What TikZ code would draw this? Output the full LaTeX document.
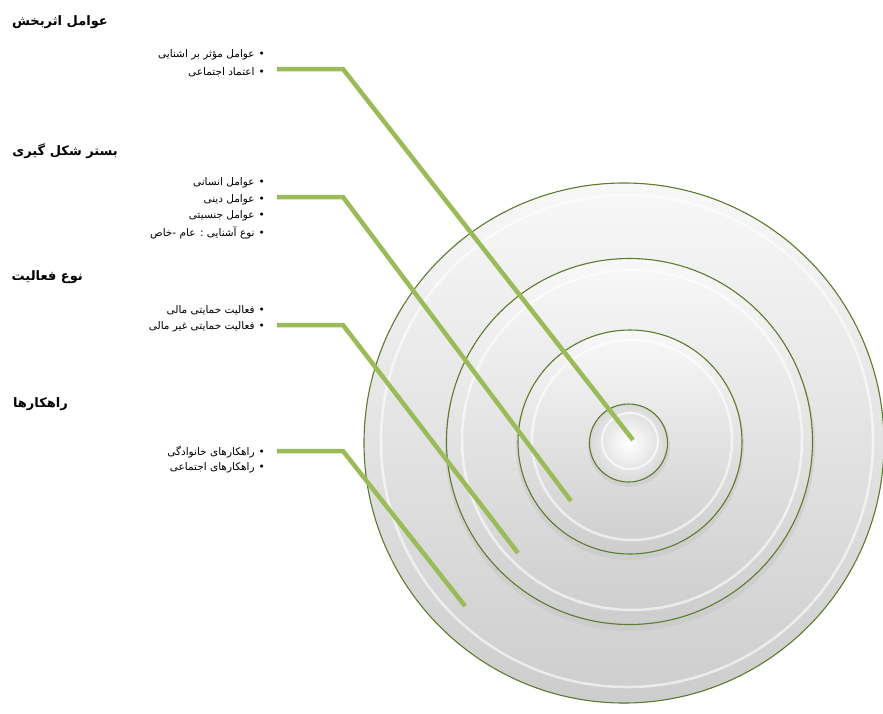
\documentclass[tikz,border=0pt]{standalone}
\usepackage{fontspec}
\TeXXeTstate=1
\newfontfamily\fa[Script=Arabic]{DejaVu Sans}
\definecolor{leadgreen}{HTML}{9BBB59}
\definecolor{rimgreen}{HTML}{5E7B2E}
\definecolor{disktop}{HTML}{F8F8F8}
\definecolor{diskbot}{HTML}{CDCDCD}
\begin{document}
\begin{tikzpicture}[x=1pt,y=-1pt,
  titletext/.style={anchor=east,inner sep=0pt,font=\fa\bfseries\fontsize{13}{15}\selectfont},
  itemtext/.style={anchor=east,inner sep=0pt,font=\fa\fontsize{10.5}{12}\selectfont},
  lead/.style={line width=4.5pt,color=leadgreen},
  diskfill/.style={top color=disktop,bottom color=diskbot},
  rim/.style={draw=rimgreen,line width=1.1pt},
  shine/.style={draw=white,line width=2.5pt,opacity=0.6}]
\useasboundingbox (0,0) rectangle (883,713);
\fill[white] (0,0) rectangle (883,713);

% discs
\fill[diskfill] (624,443) circle[radius=260pt];
\draw[shine] (627,441) circle[radius=246pt];
\draw[rim] (624,443) circle[radius=260pt];

\fill[gray!45,opacity=0.5] (630,446) circle[radius=185pt];
\fill[diskfill] (629.5,441.5) circle[radius=183pt];
\draw[shine] (632,440) circle[radius=170pt];
\draw[rim] (629.5,441.5) circle[radius=183pt];

\fill[gray!45,opacity=0.5] (630,446) circle[radius=114pt];
\fill[diskfill] (630,442) circle[radius=112pt];
\draw[shine] (632,440) circle[radius=100pt];
\draw[rim] (630,442) circle[radius=112pt];

\fill[gray!45,opacity=0.5] (629,446) circle[radius=41pt];
\fill[inner color=white,outer color=gray!30] (628.5,443) circle[radius=39pt];
\draw[draw=white,line width=2pt,opacity=0.7] (630,441) circle[radius=28pt];
\draw[rim] (628.5,443) circle[radius=39pt];

% texts
\node[titletext] (t1) at (108,22) {\beginR عوامل اثربخش\endR};
\node[itemtext] (i11) at (265,55) {\beginR •\hspace{4pt}عوامل مؤثر بر اشنایی\endR};
\node[itemtext] (i12) at (265,72) {\beginR •\hspace{4pt}اعتماد اجتماعی\endR};

\node[titletext] (t2) at (118,151) {\beginR بستر شکل گیری\endR};
\node[itemtext] (i21) at (265,183) {\beginR •\hspace{4pt}عوامل انسانی\endR};
\node[itemtext] (i22) at (265,199.5) {\beginR •\hspace{4pt}عوامل دینی\endR};
\node[itemtext] (i23) at (265,216) {\beginR •\hspace{4pt}عوامل جنسیتی\endR};
\node[itemtext] (i24) at (265,233) {\beginR •\hspace{4pt}نوع آشنایی : عام -خاص\endR};

\node[titletext] (t3) at (83,277) {\beginR نوع فعالیت\endR};
\node[itemtext] (i31) at (265,310) {\beginR •\hspace{4pt}فعالیت حمایتی مالی\endR};
\node[itemtext] (i32) at (265,327) {\beginR •\hspace{4pt}فعالیت حمایتی غیر مالی\endR};

\node[titletext] (t4) at (68,404) {\beginR راهکارها\endR};
\node[itemtext] (i41) at (265,452) {\beginR •\hspace{4pt}راهکارهای خانوادگی\endR};
\node[itemtext] (i42) at (265,468) {\beginR •\hspace{4pt}راهکارهای اجتماعی\endR};

% leader lines
\coordinate (s1) at (277,69);  \coordinate (k1) at (343,69);  \coordinate (e1) at (633,440);
\coordinate (s2) at (277,197); \coordinate (k2) at (343,197); \coordinate (e2) at (571,501);
\coordinate (s3) at (277,325); \coordinate (k3) at (343,325); \coordinate (e3) at (518,553);
\coordinate (s4) at (277,451); \coordinate (k4) at (343,451); \coordinate (e4) at (465,606);
\draw[lead] (s1) -- (k1) -- (e1);
\draw[lead] (s2) -- (k2) -- (e2);
\draw[lead] (s3) -- (k3) -- (e3);
\draw[lead] (s4) -- (k4) -- (e4);
\end{tikzpicture}
\end{document}
